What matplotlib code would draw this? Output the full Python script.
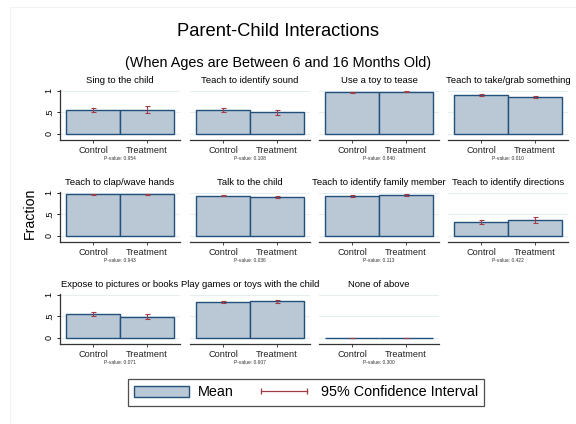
import numpy as np
import matplotlib
matplotlib.use("Agg")
import matplotlib.pyplot as plt
from matplotlib.patches import Patch, Rectangle
from matplotlib.lines import Line2D

plt.rcParams['font.family'] = ['Liberation Sans', 'DejaVu Sans']

# data
titles = ["Sing to the child", "Teach to identify sound", "Use a toy to tease",
          "Teach to take/grab something", "Teach to clap/wave hands",
          "Talk to the child", "Teach to identify family member",
          "Teach to identify directions", "Expose to pictures or books",
          "Play games or toys with the child", "None of above"]
control = [0.56, 0.56, 0.97, 0.91, 0.97, 0.94, 0.93, 0.33, 0.55, 0.84, 0.0]
treatment = [0.56, 0.50, 0.98, 0.86, 0.97, 0.90, 0.96, 0.37, 0.49, 0.855, 0.003]
control_ci = [0.04, 0.04, 0.01, 0.02, 0.01, 0.015, 0.015, 0.04, 0.05, 0.02, 0.0]
treatment_ci = [0.08, 0.06, 0.01, 0.03, 0.01, 0.02, 0.02, 0.06, 0.06, 0.03, 0.004]
pvalues = ["0.954", "0.108", "0.840", "0.010", "0.943", "0.036",
           "0.113", "0.422", "0.071", "0.607", "0.300"]
groups = ["Control", "Treatment"]

W, H = 576, 424
fill = '#b9c8d4'
edge = '#22507c'
ci_col = '#a03c46'
grid_col = '#e6eef1'

fig = plt.figure(figsize=(W / 100, H / 100), dpi=100)
fig.patches.append(Rectangle((10 / W, -0.1), 1.2, (H - 7) / H + 0.1,
                             transform=fig.transFigure, fill=False,
                             edgecolor='#eef3f6', lw=0.8))

col_px = [60, 190, 319, 448]
row_px = [140, 242, 344]
pw, ph = 120, 53.3

for i, t in enumerate(titles):
    r, c = divmod(i, 4)
    ax = fig.add_axes([col_px[c] / W, (H - row_px[r]) / H, pw / W, ph / H])
    x = np.array([1, 2])
    ax.bar(x, [control[i], treatment[i]], width=1, color=fill,
           edgecolor=edge, linewidth=1.0, zorder=2)
    ax.errorbar(x, [control[i], treatment[i]],
                yerr=[control_ci[i], treatment_ci[i]], fmt='none',
                ecolor=ci_col, elinewidth=0.8, capsize=1.8, capthick=0.8,
                zorder=3)
    for g in (0, 0.5, 1):
        ax.axhline(g, color=grid_col, lw=0.8, zorder=0)
    ax.set_xlim(0.39, 2.61)
    ax.set_ylim(-0.14, 1.1)
    ax.set_xticks(x)
    ax.set_xticklabels(groups, fontsize=6.6)
    ax.tick_params(axis='x', length=2.5, width=0.6, pad=1.5, colors='#222222')
    for s in ('top', 'right'):
        ax.spines[s].set_visible(False)
    ax.spines['bottom'].set_color('#333333')
    ax.spines['bottom'].set_linewidth(0.9)
    if c == 0:
        ax.set_yticks([0, 0.5, 1])
        ax.set_yticklabels(["0", ".5", "1"], fontsize=6.5, rotation=90,
                           va='center')
        ax.tick_params(axis='y', length=2.5, width=0.6, pad=2)
        ax.spines['left'].set_color('#333333')
        ax.spines['left'].set_linewidth(0.9)
        ax.spines['left'].set_bounds(-0.14, 1.02)
    else:
        ax.set_yticks([])
        ax.spines['left'].set_visible(False)
    ax.set_title(t, fontsize=6.8, pad=3)
    ax.annotate("P-value: " + pvalues[i], xy=(0.5, 0), xycoords='axes fraction',
                xytext=(0, -13), textcoords='offset points',
                ha='center', va='center', fontsize=3.5, color='#333333')

fig.text(278 / W, (H - 32) / H, "Parent-Child Interactions", fontsize=13.2,
         ha='center', va='center')
fig.text(278 / W, (H - 63.5) / H, "(When Ages are Between 6 and 16 Months Old)",
         fontsize=10.4, ha='center', va='center')
fig.text(30 / W, (H - 213) / H, "Fraction", fontsize=10.2, rotation=90,
         ha='center', va='center')

handles = [Patch(facecolor=fill, edgecolor=edge, linewidth=1.0),
           Line2D([], [], color=ci_col, lw=0.9, marker='|', markersize=5,
                  markeredgewidth=0.9)]
leg = fig.legend(handles, ["Mean", "95% Confidence Interval"], loc='center',
                 bbox_to_anchor=(306 / W, (H - 392.5) / H), ncol=2,
                 fontsize=10.4, frameon=True, fancybox=False, numpoints=2,
                 handlelength=3.8, handleheight=0.85, handletextpad=0.65,
                 columnspacing=1.6, borderpad=0.42)
leg.get_frame().set_edgecolor('#222222')
leg.get_frame().set_linewidth(0.9)

fig.savefig("out.png", dpi=100)
